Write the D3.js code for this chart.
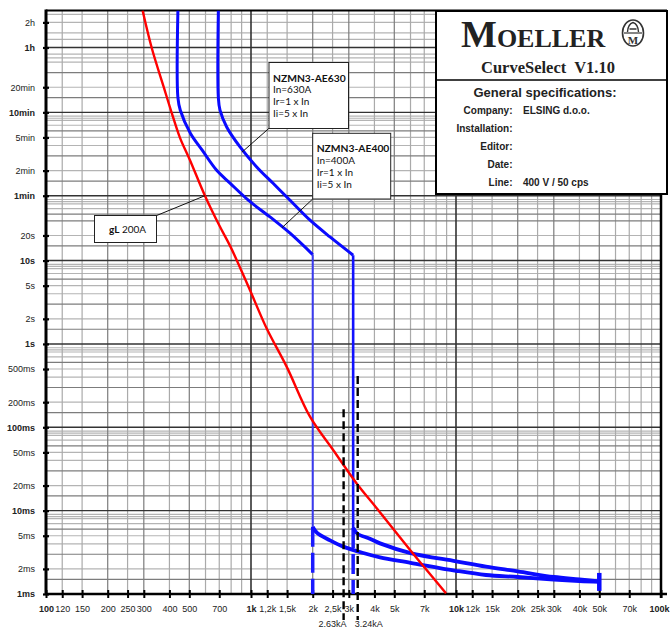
<!DOCTYPE html>
<html>
<head>
<meta charset="utf-8">
<script src="https://cdn.jsdelivr.net/npm/d3@7"></script>
<style>
  body { margin: 0; background: #fff; }
  svg { display: block; font-family: "Liberation Sans", Arial, sans-serif; }
</style>
</head>
<body>
<div id="chart"></div>
<script>
// current axis (A)
const xTickValues = [100, 120, 150, 200, 250, 300, 400, 500, 700, 1000, 1200, 1500, 2000, 2500, 3000, 4000, 5000, 7000,
    10000, 12000, 15000, 20000, 25000, 30000, 40000, 50000, 70000, 100000];
const xTickLabels = ['100', '120', '150', '200', '250', '300', '400', '500', '700', '1k', '1,2k', '1,5k', '2k', '2,5k', '3k', '4k', '5k', '7k',
    '10k', '12k', '15k', '20k', '25k', '30k', '40k', '50k', '70k', '100k'];
const xBold = [100, 1000, 10000, 100000];
const xGridMajor = [1000, 10000];
const xGridDark = [200, 300, 500, 2000, 3000, 5000, 20000, 30000, 50000];
const xGridLight = [120, 150, 250, 400, 600, 700, 800, 900, 1200, 1500, 2500, 4000, 6000, 7000, 8000, 9000,
    12000, 15000, 25000, 40000, 60000, 70000, 80000, 90000];

// time axis (s)
const yTickValues = [7200, 3600, 1200, 600, 300, 120, 60, 20, 10, 5, 2, 1, 0.5, 0.2, 0.1, 0.05, 0.02, 0.01, 0.005, 0.002, 0.001];
const yTickLabels = ['2h', '1h', '20min', '10min', '5min', '2min', '1min', '20s', '10s', '5s', '2s', '1s', '500ms', '200ms', '100ms',
    '50ms', '20ms', '10ms', '5ms', '2ms', '1ms'];
const yBold = [3600, 600, 60, 10, 1, 0.1, 0.01, 0.001];
const yGridMajor = [0.01, 0.1, 1, 10, 60, 600, 3600];
const yGridDark = [0.0015, 0.003, 0.006, 0.015, 0.03, 0.06, 0.15, 0.3, 0.6, 1.5, 3, 6, 15, 30, 36, 90, 180, 360, 900, 1800];
const yGridLight = [0.002, 0.004, 0.005, 0.007, 0.008, 0.0085, 0.009,
    0.02, 0.04, 0.05, 0.07, 0.08, 0.085, 0.09,
    0.2, 0.4, 0.5, 0.7, 0.8, 0.85, 0.9,
    2, 4, 5, 7, 8, 8.5, 9,
    20, 42, 48, 51, 54,
    120, 240, 300, 420, 480, 510, 540,
    1200, 2400, 2700, 3000,
    4500, 5400, 7200, 9000];

// gL 200A fuse
const fuseGL200 = [[296, 10000], [328, 3550], [375, 1211], [410, 597], [450, 299], [504, 160], [596, 60], [706, 25.4],
    [795, 14.6], [989, 4.4], [1193, 1.53], [1494, 0.531], [1940, 0.134], [2521, 0.053], [3277, 0.0212], [4104, 0.0107],
    [6150, 0.00308], [6925, 0.00217], [8937, 0.00102]];

// NZMN3-AE400
const ae400Thermal = [[440, 10000], [440, 900], [452, 636], [506, 337], [578, 211], [680, 121], [790, 85], [970, 53],
    [1238, 33.4], [1550, 21.3], [2000, 11.8]];
const ae400Ii = [[2000, 11.8], [2000, 0.0064]];
const ae400Inst = [[2000, 0.0064], [2100, 0.0054], [2430, 0.0044], [2820, 0.0037], [3530, 0.0031], [4260, 0.00275],
    [6000, 0.00237], [10000, 0.0019], [14000, 0.00169], [20000, 0.0016], [30000, 0.00149], [40000, 0.00143], [50000, 0.0014]];
const ae400Below = [[2000, 0.0064], [2000, 0.001]];

// NZMN3-AE630
const ae630Thermal = [[693, 10000], [693, 900], [706, 636], [761, 401], [884, 231], [1066, 133], [1285, 84], [1550, 53],
    [1941, 30.5], [2428, 19.2], [3150, 11.6]];
const ae630Ii = [[3150, 11.6], [3150, 0.0062]];
const ae630Inst = [[3150, 0.0062], [3300, 0.0053], [3800, 0.0046], [4260, 0.00405], [6000, 0.0031], [10000, 0.00247],
    [14000, 0.00213], [20000, 0.00187], [30000, 0.0016], [40000, 0.0015], [50000, 0.00142]];
const ae630Below = [[3150, 0.0062], [3150, 0.001]];

const icuBar = [[50000, 0.00109], [50000, 0.00179]];

// short-circuit markers
const faultCurrents = [2830, 3315];
const faultTops = [0.165, 0.411];
const faultLabels = ['2.63kA', '3.24kA'];

const gLTarget = [596, 60];
const ae630Target = [904, 200];
const ae400Target = [1417, 24.8];

const width = 670;
const height = 628;
const plot = { left: 46, right: 661, top: 10.5, bottom: 594 };

const x = d3.scaleLog().domain([100, 100000]).range([plot.left, plot.right]);
const y = d3.scaleLog().domain([0.001, 10000]).range([plot.bottom, plot.top]);

const svg = d3.select('#chart').append('svg')
    .attr('width', width)
    .attr('height', height);

svg.append('clipPath').attr('id', 'plot-clip')
    .append('rect')
    .attr('x', plot.left).attr('y', plot.top)
    .attr('width', plot.right - plot.left).attr('height', plot.bottom - plot.top);

const grid = svg.append('g');

const vLines = (values, color, w) => {
    grid.append('g').selectAll('line')
        .data(values)
        .join('line')
        .attr('x1', d => x(d)).attr('x2', d => x(d))
        .attr('y1', plot.top).attr('y2', plot.bottom)
        .attr('stroke', color)
        .attr('stroke-width', w);
};
const hLines = (values, color, w) => {
    grid.append('g').selectAll('line')
        .data(values)
        .join('line')
        .attr('x1', plot.left).attr('x2', plot.right)
        .attr('y1', d => y(d)).attr('y2', d => y(d))
        .attr('stroke', color)
        .attr('stroke-width', w);
};

hLines(yGridLight, '#b4b4b4', 1.2);
vLines(xGridLight, '#aaaaaa', 1.2);
hLines(yGridDark, '#7c7c7c', 1.2);
vLines(xGridDark, '#7c7c7c', 1.2);
hLines(yGridMajor, '#333', 1.4);
vLines(xGridMajor, '#333', 1.6);

// axes
const yAxis = d3.axisLeft(y)
    .tickValues(yTickValues)
    .tickFormat((d, i) => yTickLabels[i])
    .tickSizeInner(3)
    .tickSizeOuter(0)
    .tickPadding(8);

const yg = svg.append('g')
    .attr('transform', `translate(${plot.left},0)`)
    .call(yAxis);
yg.select('.domain').remove();
yg.selectAll('.tick line').attr('x1', 3).attr('x2', -3).attr('stroke', '#000').attr('stroke-width', 2.2);
yg.selectAll('.tick text')
    .style('font-size', '9px')
    .style('fill', '#222')
    .style('font-weight', d => yBold.includes(d) ? 'bold' : 'normal');

const xAxis = d3.axisBottom(x)
    .tickValues(xTickValues)
    .tickFormat((d, i) => xTickLabels[i])
    .tickSizeInner(4)
    .tickSizeOuter(0)
    .tickPadding(7.5);

const xg = svg.append('g')
    .attr('transform', `translate(0,${plot.bottom})`)
    .call(xAxis);
xg.select('.domain').remove();
xg.selectAll('.tick line').attr('y1', -4).attr('y2', 4).attr('stroke', '#000').attr('stroke-width', 2);
xg.selectAll('.tick text')
    .style('font-size', '9px')
    .style('fill', '#222')
    .style('font-weight', d => xBold.includes(d) ? 'bold' : 'normal');
// keep the last label inside the page
xg.selectAll('.tick text').filter(d => d === 100000)
    .attr('text-anchor', 'end')
    .attr('x', width - 1 - plot.right);

svg.append('line')
    .attr('x1', plot.left).attr('x2', plot.left + 621)
    .attr('y1', plot.bottom).attr('y2', plot.bottom)
    .attr('stroke', '#000').attr('stroke-width', 2.5);
svg.append('line')
    .attr('x1', plot.left).attr('x2', plot.left)
    .attr('y1', plot.top - 1).attr('y2', plot.bottom + 1)
    .attr('stroke', '#000').attr('stroke-width', 3);
svg.append('line')
    .attr('x1', plot.right).attr('x2', plot.right)
    .attr('y1', plot.top).attr('y2', plot.bottom + 4)
    .attr('stroke', '#000').attr('stroke-width', 2.5);
svg.append('line')
    .attr('x1', plot.left).attr('x2', plot.left + 621)
    .attr('y1', plot.top).attr('y2', plot.top)
    .attr('stroke', '#000').attr('stroke-width', 2);

// curves
const curves = svg.append('g').attr('clip-path', 'url(#plot-clip)');

const smooth = d3.line()
    .x(d => x(d[0]))
    .y(d => y(d[1]))
    .curve(d3.curveCatmullRom.alpha(0.5));
const straight = d3.line()
    .x(d => x(d[0]))
    .y(d => y(d[1]));

const addPath = (data, gen, color, w, dash) => {
    curves.append('path')
        .datum(data)
        .attr('d', gen)
        .attr('fill', 'none')
        .attr('stroke', color)
        .attr('stroke-width', w)
        .attr('stroke-linejoin', 'round')
        .attr('stroke-dasharray', dash || null);
};

addPath(ae400Thermal, smooth, '#0a0aff', 3);
addPath(ae630Thermal, smooth, '#0a0aff', 3);
addPath(ae400Ii, straight, '#3b3bf0', 2);
addPath(ae630Ii, straight, '#1212ff', 2.6);
addPath(ae400Below, straight, '#1a1aff', 3.5, '20,6');
addPath(ae630Below, straight, '#1a1aff', 3.5, '20,6');
addPath(ae400Inst, smooth, '#0a0aff', 3.8);
addPath(ae630Inst, smooth, '#0a0aff', 3.8);
addPath(icuBar, straight, '#0a0aff', 4.5);
addPath(fuseGL200, smooth, '#ff0000', 2.4);

// short-circuit dashed markers
faultCurrents.forEach((c, i) => {
    svg.append('line')
        .attr('x1', x(c)).attr('x2', x(c))
        .attr('y1', y(faultTops[i])).attr('y2', plot.bottom + 26)
        .attr('stroke', '#000')
        .attr('stroke-width', 2.4)
        .attr('stroke-dasharray', '8,4');
    svg.append('text')
        .attr('x', i === 0 ? x(c) + 3 : x(c) - 3)
        .attr('y', 627)
        .attr('text-anchor', i === 0 ? 'end' : 'start')
        .style('font-size', '9px')
        .style('fill', '#222')
        .text(faultLabels[i]);
});

// annotation boxes
const notes = svg.append('g').style('font-family', 'Lato, "Liberation Sans", sans-serif');

const leader = (x1, y1, target) => {
    notes.append('line')
        .attr('x1', x1).attr('y1', y1)
        .attr('x2', x(target[0])).attr('y2', y(target[1]))
        .attr('stroke', '#111').attr('stroke-width', 1);
};

leader(156.7, 215.5, gLTarget);
leader(269, 128.3, ae630Target);
leader(312.7, 199, ae400Target);

notes.append('rect')
    .attr('x', 94.5).attr('y', 215.5).attr('width', 62).attr('height', 27)
    .attr('fill', '#fff').attr('stroke', '#222');
const glText = notes.append('text').attr('x', 109).attr('y', 233).style('font-size', '10px').style('fill', '#111');
glText.append('tspan').style('font-weight', 'bold').text('gL');
glText.append('tspan').text(' 200A');

const deviceBox = (bx, by, bw, bh, lines) => {
    notes.append('rect')
        .attr('x', bx).attr('y', by).attr('width', bw).attr('height', bh)
        .attr('fill', '#fff').attr('stroke', '#222');
    notes.append('g').selectAll('text')
        .data(lines)
        .join('text')
        .attr('x', bx + 4)
        .attr('y', (d, i) => by + 19 + i * 11.8)
        .style('font-size', (d, i) => i === 0 ? '10.3px' : '10px')
        .style('font-weight', (d, i) => i === 0 ? 'bold' : 'normal')
        .style('fill', '#111')
        .text(d => d);
};

deviceBox(269, 62.5, 79.5, 66, ['NZMN3-AE630', 'In=630A', 'Ir=1 x In', 'Ii=5 x In']);
deviceBox(312.7, 133.3, 78, 65.7, ['NZMN3-AE400', 'In=400A', 'Ir=1 x In', 'Ii=5 x In']);

// title block
const tb = svg.append('g');
tb.append('rect')
    .attr('x', 436).attr('y', 11).attr('width', 231).attr('height', 183)
    .attr('fill', '#fff').attr('stroke', '#000').attr('stroke-width', 2);
tb.append('line')
    .attr('x1', 436).attr('x2', 667).attr('y1', 80).attr('y2', 80)
    .attr('stroke', '#000').attr('stroke-width', 1.5);

const logo = tb.append('text')
    .attr('x', 461).attr('y', 47)
    .style('font-family', '"Liberation Serif", "Times New Roman", serif')
    .style('font-weight', 'bold')
    .style('fill', '#222');
logo.append('tspan').style('font-size', '38px').text('M');
logo.append('tspan').style('font-size', '26px').text('OELLER');

tb.append('ellipse')
    .attr('cx', 633).attr('cy', 33).attr('rx', 10.5).attr('ry', 13)
    .attr('fill', 'none').attr('stroke', '#333').attr('stroke-width', 1.6);
tb.append('line')
    .attr('x1', 624).attr('x2', 642).attr('y1', 33).attr('y2', 33)
    .attr('stroke', '#333').attr('stroke-width', 1.2);
tb.append('path')
    .attr('d', 'M627.5,32 Q628,24 633,22.5 Q638,24 638.5,32 M629.5,29 L636.5,29')
    .attr('fill', 'none').attr('stroke', '#333').attr('stroke-width', 1.4);
tb.append('text')
    .attr('x', 633).attr('y', 43.5).attr('text-anchor', 'middle')
    .style('font-family', '"Liberation Serif", serif').style('font-weight', 'bold')
    .style('font-size', '11px').style('fill', '#333')
    .text('M');

tb.append('text')
    .attr('x', 548).attr('y', 73).attr('text-anchor', 'middle')
    .style('font-family', '"Liberation Serif", "Times New Roman", serif')
    .style('font-weight', 'bold').style('font-size', '16.5px').style('fill', '#222')
    .text('CurveSelect\u00a0 V1.10');

tb.append('text')
    .attr('x', 545).attr('y', 96.5).attr('text-anchor', 'middle')
    .style('font-weight', 'bold').style('font-size', '13px').style('fill', '#222')
    .text('General specifications:');

const specLabels = ['Company:', 'Installation:', 'Editor:', 'Date:', 'Line:'];
const specValues = ['ELSING d.o.o.', '', '', '', '400 V / 50 cps'];
const specY = [113.5, 132, 150, 167.5, 186];

tb.append('g').selectAll('text')
    .data(specLabels)
    .join('text')
    .attr('x', 512.5)
    .attr('y', (d, i) => specY[i])
    .attr('text-anchor', 'end')
    .style('font-weight', 'bold').style('font-size', '10px').style('fill', '#222')
    .text(d => d);
tb.append('g').selectAll('text')
    .data(specValues)
    .join('text')
    .attr('x', 523)
    .attr('y', (d, i) => specY[i])
    .style('font-weight', 'bold').style('font-size', '10px').style('fill', '#222')
    .text(d => d);
</script>
</body>
</html>
